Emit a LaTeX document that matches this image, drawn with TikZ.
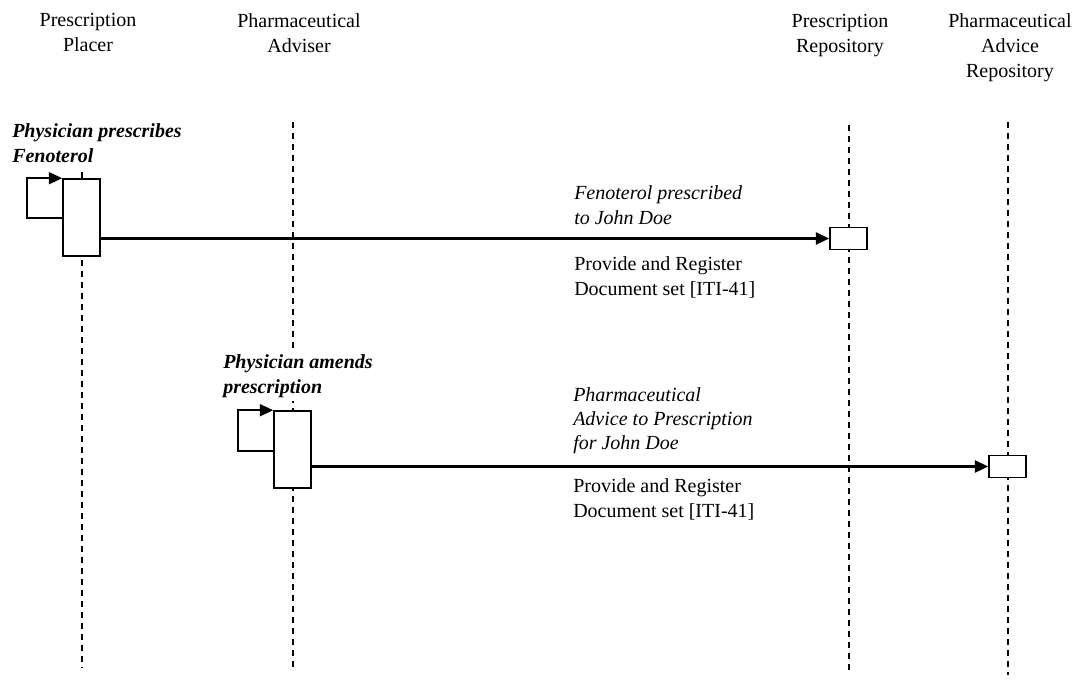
\documentclass[tikz,border=0pt]{standalone}
\usepackage{fontspec}
\setmainfont{Liberation Serif}
\usetikzlibrary{arrows.meta}
\begin{document}
\begin{tikzpicture}[x=0.75pt,y=-0.75pt,
		actor/.style={align=center, anchor=base, inner sep=0pt, font=\fontsize{15}{18.75}\selectfont},
		msglabel/.style={align=left, anchor=base west, inner sep=0pt, font=\fontsize{15}{18.75}\selectfont},
		action/.style={msglabel, fill=white, inner xsep=0pt, inner ysep=3pt, font=\fontsize{15}{18.75}\selectfont\bfseries\itshape},
		lifeline/.style={line width=1pt, dash pattern=on 4.5pt off 3.75pt},
		activation/.style={draw, fill=white, line width=1.2pt, minimum width=27.75pt, minimum height=57.75pt, inner sep=0pt},
		store/.style={draw, fill=white, line width=1.2pt, minimum width=27.75pt, minimum height=16.5pt, inner sep=0pt},
		msg/.style={line width=1.8pt, -{Triangle[length=10pt,width=9pt]}},
		selfcall/.style={line width=1.2pt, -{Triangle[length=10pt,width=9pt]}}]
	\useasboundingbox (0,0) rectangle (1078,683);
	\node[actor] (placer) at (88,51) {Prescription\\Placer};
	\node[actor] (adviser) at (299,52) {Pharmaceutical\\Adviser};
	\node[actor] (rxrepo) at (840,52) {Prescription\\Repository};
	\node[actor] (advrepo) at (1010,77) {Pharmaceutical\\Advice\\Repository};
	\coordinate (placerTop) at (82,172);
	\coordinate (placerEnd) at (82,668);
	\coordinate (adviserTop) at (293,122);
	\coordinate (adviserEnd) at (293,668);
	\coordinate (rxrepoTop) at (849,125);
	\coordinate (rxrepoEnd) at (849,675);
	\coordinate (advrepoTop) at (1008,122);
	\coordinate (advrepoEnd) at (1008,675);
	\draw[lifeline] (placerTop) -- (placerEnd);
	\draw[lifeline] (adviserTop) -- (adviserEnd);
	\draw[lifeline] (rxrepoTop) -- (rxrepoEnd);
	\draw[lifeline] (advrepoTop) -- (advrepoEnd);
	\node[action] (prescribe) at (12,162) {Physician prescribes\\Fenoterol};
	\node[activation] (act1) at (81.5,217.5) {};
	\node[store] (rxstore) at (848.5,238.5) {};
	\coordinate (loop1) at (27,218);
	\draw[selfcall] (act1.west |- loop1) -- (loop1) |- (act1.north west);
	\draw[msg] (rxstore.west -| act1.east) -- (rxstore.west);
	\node[msglabel, font=\fontsize{15}{18.75}\selectfont\itshape] (msg1top) at (574,224) {Fenoterol prescribed\\to John Doe};
	\node[msglabel] (msg1bot) at (574,295) {Provide and Register\\Document set [ITI-41]};
	\node[action] (amend) at (223,393) {Physician amends\\prescription};
	\node[activation] (act2) at (292.5,449.5) {};
	\node[store] (advstore) at (1007.5,466.5) {};
	\coordinate (loop2) at (238,451);
	\draw[selfcall] (act2.west |- loop2) -- (loop2) |- (act2.north west);
	\draw[msg] (advstore.west -| act2.east) -- (advstore.west);
	\node[msglabel, font=\fontsize{15}{18}\selectfont\itshape] (msg2top) at (573,449) {Pharmaceutical\\Advice to Prescription\\for John Doe};
	\node[msglabel] (msg2bot) at (573,517) {Provide and Register\\Document set [ITI-41]};
\end{tikzpicture}
\end{document}
